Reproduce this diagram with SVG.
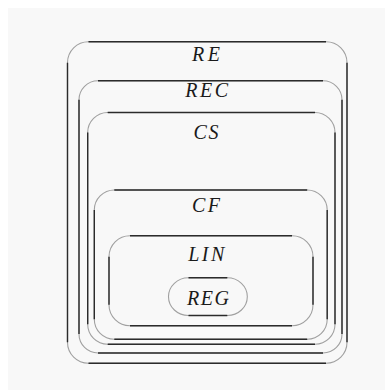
<svg xmlns="http://www.w3.org/2000/svg" width="385" height="390" viewBox="0 0 385 390">
<style>
.arc{fill:none;stroke:#a0a0a0;stroke-width:1.1}
.edge{fill:none;stroke:#2b2b2b;stroke-width:1.4}
.lbl{font-family:"Liberation Serif","DejaVu Serif",serif;font-style:italic;font-size:20px;fill:#1a1a1a;text-anchor:middle}
</style>
<rect x="0" y="0" width="385" height="390" fill="#ffffff"/>
<rect x="8" y="8" width="377" height="382" fill="#f8f8f8"/>
<g id="RE">
<rect class="arc" x="67.5" y="41.7" width="279.5" height="321.6" rx="21" ry="21"/>
<path class="edge" d="M88.5 41.7H326M88.5 363.3H326M67.5 62.7V342.3M347 62.7V342.3"/>
<text class="lbl" x="206" y="61" textLength="28" lengthAdjust="spacing">RE</text>
</g>
<g id="REC">
<rect class="arc" x="79" y="80.7" width="263" height="272.3" rx="19" ry="19"/>
<path class="edge" d="M98 80.7H323M98 353H323M79 99.7V334M342 99.7V334"/>
<text class="lbl" x="206.7" y="97" textLength="43" lengthAdjust="spacing">REC</text>
</g>
<g id="CS">
<rect class="arc" x="87.7" y="112.5" width="247.3" height="231.8" rx="20" ry="20"/>
<path class="edge" d="M107.7 112.5H315M107.7 344.3H315M87.7 132.5V324.3M335 132.5V324.3"/>
<text class="lbl" x="206" y="138.5" textLength="25" lengthAdjust="spacing">CS</text>
</g>
<g id="CF">
<rect class="arc" x="94.3" y="190" width="232.9" height="149.3" rx="20" ry="20"/>
<path class="edge" d="M114.3 190H307.2M114.3 339.3H307.2M94.3 210V319.3M327.2 210V319.3"/>
<text class="lbl" x="206" y="212" textLength="28" lengthAdjust="spacing">CF</text>
</g>
<g id="LIN">
<rect class="arc" x="109" y="235.7" width="204" height="90.1" rx="21" ry="21"/>
<path class="edge" d="M130 235.7H292M130 325.8H292M109 256.7V304.8M313 256.7V304.8"/>
<text class="lbl" x="206.3" y="261" textLength="36" lengthAdjust="spacing">LIN</text>
</g>
<g id="REG">
<rect class="arc" x="168.5" y="277.8" width="78.8" height="37.7" rx="20" ry="18.8"/>
<path class="edge" d="M188.5 277.8H227.3M188.5 315.5H227.3"/>
<text class="lbl" x="208" y="305" textLength="42" lengthAdjust="spacing">REG</text>
</g>
<g id="connectors"></g>
</svg>
